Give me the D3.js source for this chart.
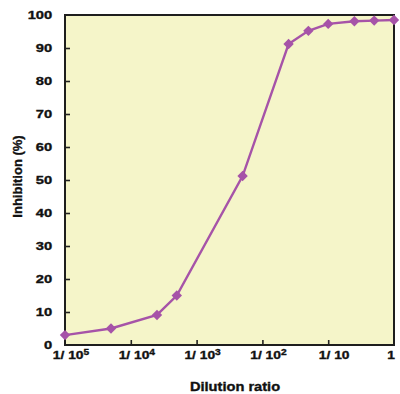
<!DOCTYPE html>
<html><head><meta charset="utf-8">
<script src="https://cdn.jsdelivr.net/npm/d3@7"></script>
<style>
html,body{margin:0;padding:0;background:#fff;}
text{font-family:"Liberation Sans",Arial,Helvetica,sans-serif;font-weight:bold;fill:#111;stroke:#111;stroke-width:0.35px;}
</style></head>
<body>
<svg id="c" width="400" height="394"></svg>
<script>
// Data
const dilution = [1e-5, 5e-5, 2.5e-4, 5e-4, 5e-3, 2.5e-2, 5e-2, 0.1, 0.25, 0.5, 1];
const inhibition = [3, 5, 9.1, 15, 51.2, 91.2, 95.2, 97.3, 98.1, 98.3, 98.5];
const xTickValues = [1e-5, 1e-4, 1e-3, 1e-2, 1e-1, 1];
const xTickBase = ["1/ 10", "1/ 10", "1/ 10", "1/ 10", "1/ 10", "1"];
const xTickExp = ["5", "4", "3", "2", "", ""];
const yTickValues = [0, 10, 20, 30, 40, 50, 60, 70, 80, 90, 100];
const xTitle = "Dilution ratio";
const yTitle = "Inhibition (%)";

const svg = d3.select("#c");
const L = 65, R = 394, T = 15, B = 345;
const SXY = 1.28, SXX = 1.2;

const x = d3.scaleLog().domain([1e-5, 1]).range([L, R]);
const y = d3.scaleLinear().domain([0, 100]).range([B, T]);

svg.append("rect").attr("x", L).attr("y", T).attr("width", R - L).attr("height", B - T)
  .attr("fill", "#f5f5c9");

// Y axis
const gy = svg.append("g").attr("transform", `translate(${L},0)`)
  .call(d3.axisLeft(y).tickValues(yTickValues).tickFormat(d3.format("d")).tickSizeInner(-5).tickSizeOuter(0).tickPadding(10));
gy.select(".domain").remove();
gy.selectAll(".tick line").attr("stroke", "#222").attr("stroke-width", 1.6)
  .filter(d => d === 0 || d === 100).remove();
gy.selectAll(".tick text").attr("font-size", 11.5).attr("font-family", null)
  .attr("transform", `scale(${SXY},1)`).attr("fill", "#111");

// X axis
const gx = svg.append("g").attr("transform", `translate(0,${B})`)
  .call(d3.axisBottom(x).tickValues(xTickValues).tickFormat(() => "").tickSizeInner(-5).tickSizeOuter(0).tickPadding(6));
gx.select(".domain").remove();
gx.selectAll(".tick line").attr("stroke", "#222").attr("stroke-width", 1.6)
  .filter((d, i) => i === 0 || i === xTickValues.length - 1).remove();
gx.selectAll(".tick text").attr("font-size", 11.5).attr("font-family", null).attr("fill", "#111")
  .attr("transform", (d, i) => `translate(${i === xTickValues.length - 1 ? -3.5 : 5.5},0) scale(${SXX},1)`)
  .each(function(d, i) {
    const t = d3.select(this);
    t.text(null);
    t.append("tspan").text(xTickBase[i]);
    if (xTickExp[i]) t.append("tspan").attr("font-size", 8.5).attr("dy", "-0.45em").text(xTickExp[i]);
  });

// frame
svg.append("rect").attr("x", L).attr("y", T).attr("width", R - L).attr("height", B - T)
  .attr("fill", "none").attr("stroke", "#1e1e1e").attr("stroke-width", 2);

// line + markers
const col = "#a653a8";
const pts = dilution.map((d, i) => [d, inhibition[i]]);
svg.append("path").datum(pts)
  .attr("fill", "none").attr("stroke", col).attr("stroke-width", 2.4)
  .attr("d", d3.line().x(d => x(d[0])).y(d => y(d[1])));
const sym = d3.symbol().type(d3.symbolSquare).size(54);
svg.selectAll(".m").data(pts).join("path").attr("class", "m")
  .attr("d", sym)
  .attr("fill", col)
  .attr("transform", d => `translate(${x(d[0])},${y(d[1])}) rotate(45)`);

// titles
svg.append("text").attr("transform", `translate(235,390.5) scale(1.22,1)`)
  .attr("text-anchor", "middle").attr("font-size", 12).text(xTitle);
svg.append("text").attr("transform", `translate(21.5,176.5) rotate(-90)`)
  .attr("text-anchor", "middle").attr("font-size", 13).text(yTitle);
</script>
</body></html>
